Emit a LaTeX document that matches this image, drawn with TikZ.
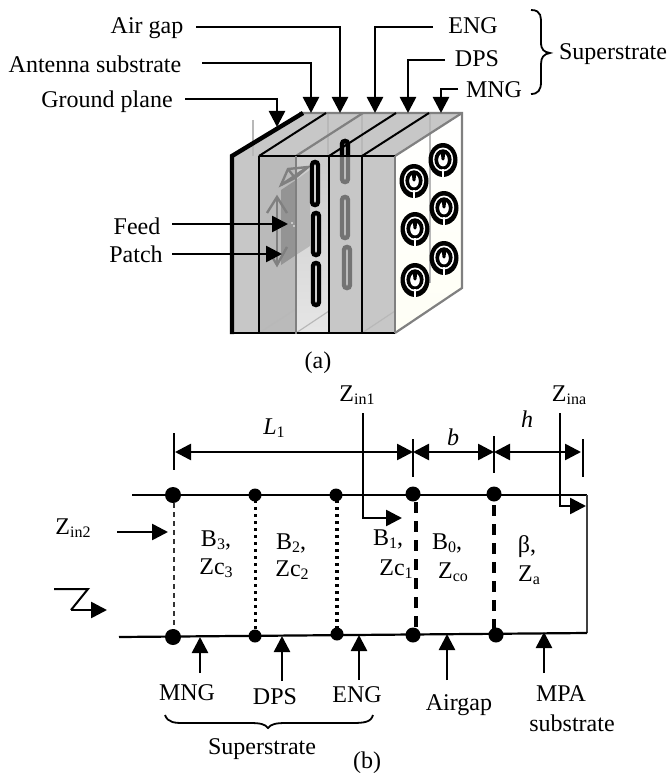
\documentclass[tikz,border=0pt]{standalone}
\usepackage{fontspec}
\setmainfont{Liberation Serif}
\usetikzlibrary{arrows.meta,calc}
\newcommand{\sbs}[1]{\raisebox{-3.5pt}{\fontsize{16}{16}\selectfont #1}}
\tikzset{
  lbl/.style={inner sep=0pt,font=\fontsize{24}{26}\selectfont,align=center},
  ptr/.style={line width=2.6pt,-{Triangle[length=16pt,width=16pt]}},
  dimn/.style={line width=2.6pt,{Triangle[length=16pt,width=16pt]}-{Triangle[length=16pt,width=16pt]}},
  tick/.style={line width=2pt},
  rail/.style={line width=2.2pt},
  dot/.style={circle,fill=black,inner sep=0pt},
  plateline/.style={line width=2pt,black},
  greyline/.style={line width=2.2pt,black!50},
  faint/.style={line width=1.2pt,black!28},
  slotblack/.style={draw=black,line width=4.4pt,fill=black!8},
  slotgrey/.style={draw=black!55,line width=4.4pt,fill=black!22},
  patchl/.style={line width=2.4pt,black!50},
}
\newcommand{\srr}[2]{%
  \begin{scope}[shift={(#1,#2)}]
  \fill[black] (0,0) ellipse [x radius=14.5,y radius=17];
  \fill[white] (0,-0.5) ellipse [x radius=10.2,y radius=12];
  \fill[black] (0,-0.5) ellipse [x radius=8.6,y radius=10.2];
  \fill[white] (0,0) ellipse [x radius=4.8,y radius=6.4];
  \fill[black] (-2,-7) -- (2,-7) -- (1.6,-1) .. controls (1,1) and (-1,1) .. (-1.6,-1) -- cycle;
  \fill[white] (-1,9) rectangle (1,18);
  \end{scope}}
% centre x, top y, bottom y, style
\newcommand{\slotshape}[4]{%
  \draw[#4] ({#1-3},{#2+3}) .. controls ({#1-3},{#2-1}) and ({#1+3},{#2-1}) .. ({#1+3},{#2+3})
    -- ({#1+3},{#3-3}) .. controls ({#1+3},{#3+1}) and ({#1-3},{#3+1}) .. ({#1-3},{#3-3}) -- cycle;}
\begin{document}
\begin{tikzpicture}[x=1pt,y=-1pt]
\useasboundingbox (0,0) rectangle (670,773);
% --- box fills
\fill[black!22] (232,156) -- (299,113) -- (462,113) -- (395,156) -- cycle;
\fill[black!22] (232,156) rectangle (259,333);
\fill[black!27] (259,156) rectangle (296,333);
\shade[top color=black!20,bottom color=black!10] (296,156) rectangle (329,333);
\fill[black!22] (329,156) rectangle (395,333);
\shade[top color=white,bottom color=black!6!yellow!4] (395,156) -- (462,113) -- (462,288) -- (395,333) -- cycle;
% --- patch and feed
\fill[black!42] (281,190) -- (296,180) -- (296,255) -- (281,265) -- cycle;
\fill[black!28] (296,180) -- (310,170) -- (310,246) -- (296,255) -- cycle;
\fill[white] (292,223) circle (0.8) (294,226) circle (0.8);
\draw[patchl] (277,197) -- (277,264);
\draw[patchl] (267,213) -- (277,197) -- (287,213);
\draw[patchl] (267,248) -- (277,265) -- (287,247);
\draw[patchl] (281,185) -- (288,169) -- (308,167) -- (295,178) -- cycle;
\draw[patchl] (288,169) -- (295,178) (281,185) -- (308,167);
% --- faint lines
\draw[faint] (253,120) -- (253,156);
\draw[faint] (328,113) -- (328,156) (362,113) -- (362,156);
\draw[faint] (430,113) -- (430,283);
\draw[faint] (259,333) -- (296,309) (296,333) -- (329,311) (362,333) -- (395,311);
% --- slots
\slotshape{345}{141}{182}{slotgrey}
\draw[draw=black,line width=4.4pt] (342,156) -- (342,144) .. controls (342,140) and (348,140) .. (348,144) -- (348,156);
\slotshape{345}{197}{238}{slotgrey}
\slotshape{347}{247}{288}{slotgrey}
\slotshape{315}{162}{205}{slotblack}
\slotshape{316}{213}{255}{slotblack}
\slotshape{316}{263}{305}{slotblack}
% --- rings
\srr{414}{181}\srr{443}{160}\srr{415}{229}\srr{444}{208}\srr{415}{280}\srr{444}{258}
% --- box lines
\draw[greyline] (299,113) -- (462,113) -- (462,288) -- (395,333);
\draw[greyline] (395,156) -- (462,113);
\draw[greyline] (296,156) -- (363,113);
\draw[plateline] (259,156) -- (326,113);
\draw[plateline] (329,156) -- (396,113);
\draw[plateline] (362,156) -- (429,113);
\draw[plateline] (259,156) -- (395,156);
\draw[plateline] (232,333) -- (395,333);
\draw[plateline] (259,156) -- (259,333);
\draw[plateline] (329,156) -- (329,333);
\draw[line width=2.4pt] (362,156) -- (362,333);
\draw[greyline] (296,156) -- (296,334);
\draw[greyline] (395,156) -- (395,333);
\draw[line width=4.4pt] (303,113) -- (232,156) -- (232,334);
% --- top labels
\node[lbl] (air) at (147,28) {Air gap};
\node[lbl] (ant) at (95,64) {Antenna substrate};
\node[lbl] (gnd) at (107,102) {Ground plane};
\node[lbl] (eng) at (473,26) {ENG};
\node[lbl] (dps) at (477,59) {DPS};
\node[lbl] (mng) at (494,90) {MNG};
\node[lbl] (sup) at (613,54) {Superstrate};
\node[lbl] (feed) at (137,226) {Feed};
\node[lbl] (pat) at (136,254) {Patch};
\node[lbl] (capa) at (318,363) {(a)};
\coordinate (tair) at (340,113);
\coordinate (tant) at (311,113);
\coordinate (tgnd) at (277,127);
\coordinate (teng) at (375,113);
\coordinate (tdps) at (408,113);
\coordinate (tmng) at (441,113);
\coordinate (tfeed) at (288,224);
\coordinate (tpat) at (282,254);
\draw[ptr] (196,27) -| (tair);
\draw[ptr] (202,63) -| (tant);
\draw[ptr] (185,99) -| (tgnd);
\draw[ptr] (433,27) -| (teng);
\draw[ptr] (445,60) -| (tdps);
\draw[ptr] (458,89) -| (tmng);
\draw[ptr] (172,224) -- (tfeed);
\draw[ptr] (172,254) -- (tpat);
\draw[line width=1.8pt] (531,10) .. controls (542,10) and (541,18) .. (541,25) -- (541,42) .. controls (541,50) and (544,52) .. (550,53) .. controls (544,54) and (541,57) .. (541,64) -- (541,82) .. controls (541,90) and (538,94) .. (531,94);
% --- lower: rails
\coordinate (tl) at (132,495);
\coordinate (tr) at (587,495);
\coordinate (bl) at (119,637);
\coordinate (br) at (587,633);
\draw[rail] (tl) -- (tr);
\draw[line width=2pt,black!75] (tr) -- (br);
\draw[rail] (bl) -- (br);
\draw[line width=1.5pt,black!80,dash pattern=on 5pt off 4pt] (174,503) -- (174,632);
\draw[line width=3pt,dash pattern=on 3pt off 4pt] (255,500) -- (255,632);
\draw[line width=3.2pt,dash pattern=on 3pt off 4pt] (337,500) -- (337,630);
\draw[line width=3.4pt,dash pattern=on 11pt off 8pt] (416,502) -- (416,631);
\draw[line width=3.4pt,dash pattern=on 11pt off 8pt] (494,505) -- (494,631);
\node[dot,minimum size=16pt] (t0) at (173,495) {};
\node[dot,minimum size=13pt] (t1) at (255,495) {};
\node[dot,minimum size=13pt] (t2) at (336,495) {};
\node[dot,minimum size=15pt] (t3) at (413,494) {};
\node[dot,minimum size=15pt] (t4) at (494,494) {};
\node[dot,minimum size=16pt] (b0) at (173,637) {};
\node[dot,minimum size=13pt] (b1) at (255,636) {};
\node[dot,minimum size=13pt] (b2) at (337,634) {};
\node[dot,minimum size=15pt] (b3) at (413,635) {};
\node[dot,minimum size=15pt] (b4) at (496,635) {};
% --- dimensions
\coordinate (d0a) at (174,433); \coordinate (d0b) at (174,470);
\coordinate (d1a) at (413,439); \coordinate (d1b) at (413,477);
\coordinate (d2a) at (494,436); \coordinate (d2b) at (494,473);
\coordinate (d3a) at (583,439); \coordinate (d3b) at (583,477);
\draw[tick] (d0a) -- (d0b);
\draw[tick] (d1a) -- (d1b);
\draw[tick] (d2a) -- (d2b);
\draw[tick] (d3a) -- (d3b);
\coordinate (m0) at (175,452); \coordinate (m1) at (413,452);
\coordinate (m2) at (494,452); \coordinate (m3) at (581,452);
\draw[dimn] (m0) -- (m1);
\draw[dimn] (m1) -- (m2);
\draw[dimn] (m2) -- (m3);
\node[lbl,font=\fontsize{24}{26}\selectfont\itshape] (lL) at (274,428) {L\sbs{\upshape 1}};
\node[lbl,font=\fontsize{24}{26}\selectfont\itshape] (lb) at (453,437) {b};
\node[lbl,font=\fontsize{24}{26}\selectfont\itshape] (lh) at (527,419) {h};
\node[lbl] (zin1) at (357,395) {Z\sbs{in1}};
\node[lbl] (zina) at (569,395) {Z\sbs{ina}};
\node[lbl] (zin2) at (73,528) {Z\sbs{in2}};
\coordinate (a1) at (363,413); \coordinate (a1t) at (402,518);
\coordinate (a2) at (560,413); \coordinate (a2t) at (586,506);
\draw[ptr] (a1) |- (a1t);
\draw[ptr] (a2) |- (a2t);
\coordinate (z2s) at (117,532); \coordinate (z2t) at (168,532);
\draw[ptr] (z2s) -- (z2t);
\node[lbl] (B3) at (216,540) {B\sbs{3},};
\node[lbl] (Zc3) at (216,568) {Zc\sbs{3}};
\node[lbl] (B2) at (291,543) {B\sbs{2},};
\node[lbl] (Zc2) at (292,570) {Zc\sbs{2}};
\node[lbl] (B1) at (388,539) {B\sbs{1},};
\node[lbl] (Zc1) at (396,569) {Zc\sbs{1}};
\node[lbl] (B0) at (447,543) {B\sbs{0},};
\node[lbl] (Zco) at (453,572) {Z\sbs{co}};
\node[lbl] (beta) at (527,547) {β,};
\node[lbl] (Za) at (529,575) {Z\sbs{a}};
% --- Z symbol
\coordinate (zs) at (54,589); \coordinate (zm) at (88,589);
\coordinate (zn) at (71,610); \coordinate (zt) at (107,610);
\draw[line width=2pt] (zs) -- (zm) -- (zn);
\draw[ptr] (zn) -- (zt);
% --- bottom labels
\node[lbl] (lm) at (187,693) {MNG};
\node[lbl] (ld) at (275,697) {DPS};
\node[lbl] (le) at (357,695) {ENG};
\node[lbl] (la) at (459,705) {Airgap};
\node[lbl] (lp) at (561,694) {MPA};
\node[lbl] (ls) at (572,723) {substrate};
\node[lbl] (lsup) at (262,749) {Superstrate};
\node[lbl] (capb) at (367,763) {(b)};
\coordinate (u1) at (200,673); \coordinate (v1) at (200,637);
\coordinate (u2) at (282,681); \coordinate (v2) at (282,636);
\coordinate (u3) at (359,680); \coordinate (v3) at (359,635);
\coordinate (u4) at (447,680); \coordinate (v4) at (447,634);
\coordinate (u5) at (544,673); \coordinate (v5) at (544,632);
\draw[ptr] (u1) -- (v1);
\draw[ptr] (u2) -- (v2);
\draw[ptr] (u3) -- (v3);
\draw[ptr] (u4) -- (v4);
\draw[ptr] (u5) -- (v5);
\draw[line width=1.8pt] (165,715) .. controls (168,723) and (175,723) .. (185,723) -- (250,723) .. controls (260,723) and (265,724) .. (268,728) .. controls (271,724) and (276,723) .. (286,723) -- (352,723) .. controls (365,723) and (371,722) .. (373,715);
\end{tikzpicture}
\end{document}
